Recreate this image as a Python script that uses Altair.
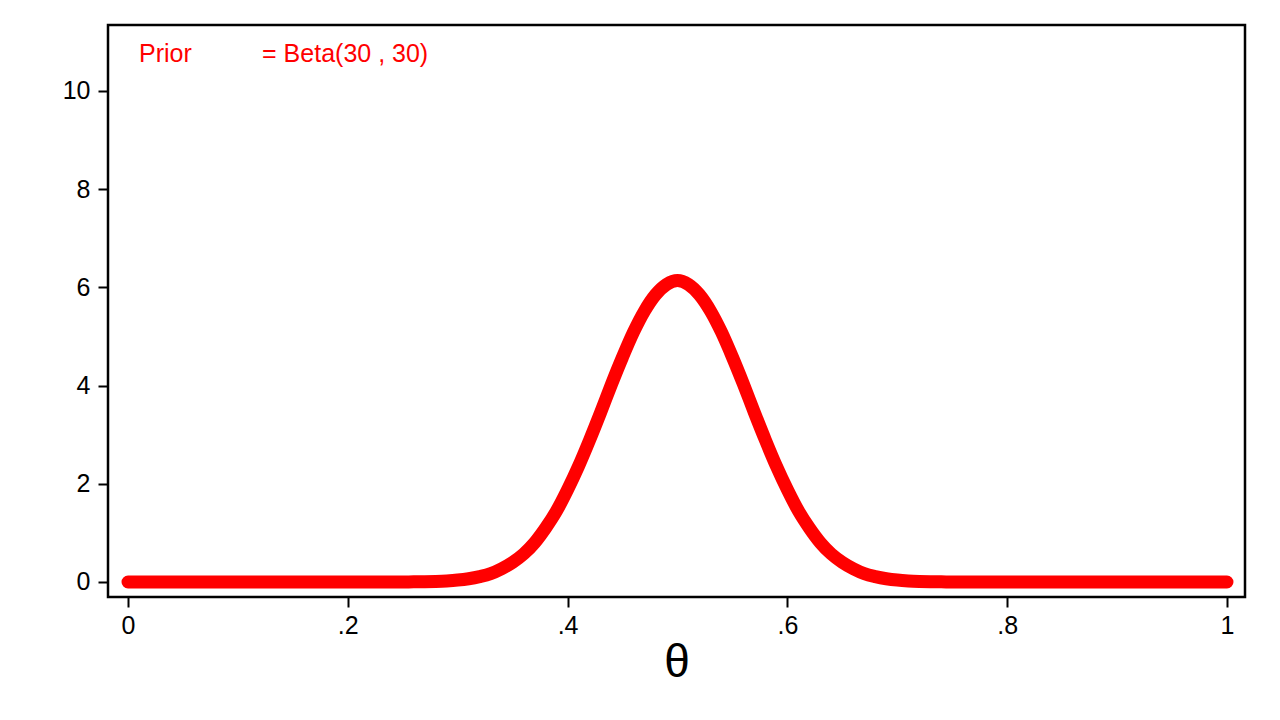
import altair as alt
import pandas as pd

# theta grid and density values (Beta(30,30) prior)
theta = [round(i * 0.01, 2) for i in range(101)]
left_half = [  # values for theta = 0.00 .. 0.50
    0, 0, 0, 0, 0, 0, 0, 0, 0, 0,
    0, 0, 0, 0, 0, 0, 0, 0, 0, 0,
    0, 0, 0, 0, 0, 0.001, 0.003, 0.006, 0.012, 0.022,
    0.039, 0.067, 0.11, 0.17, 0.27, 0.40, 0.57, 0.80, 1.10, 1.45,
    1.88, 2.36, 2.89, 3.45, 4.03, 4.58, 5.09, 5.52, 5.85, 6.06,
    6.14,
]
density = left_half + left_half[-2::-1]

x_ticks = [0, 0.2, 0.4, 0.6, 0.8, 1]
y_ticks = [0, 2, 4, 6, 8, 10]
note_x = [0.010, 0.122]
note_y = [10.6, 10.6]
note_text = ["Prior", "= Beta(30 , 30)"]

df = pd.DataFrame({"theta": theta, "density": density})
notes = pd.DataFrame({"x": note_x, "y": note_y, "t": note_text})

FONT = "Liberation Sans"

xscale = alt.Scale(domain=[-0.0182, 1.0164], nice=False, zero=False)
yscale = alt.Scale(domain=[-0.3055, 11.344], nice=False, zero=False)

line = alt.Chart(df).mark_line(
    color="#ff0000", strokeWidth=13, strokeCap="round", strokeJoin="round",
    interpolate="monotone"
).encode(
    x=alt.X("theta:Q", scale=xscale, title="θ",
            axis=alt.Axis(values=x_ticks,
                          labelExpr="datum.value == 0 ? '0' : datum.value == 1 ? '1' : replace(format(datum.value, '.1f'), '0.', '.')")),
    y=alt.Y("density:Q", scale=yscale, title=None,
            axis=alt.Axis(values=y_ticks)),
)

text = alt.Chart(notes).mark_text(
    color="#ff0000", font=FONT, fontSize=25, align="left", baseline="alphabetic"
).encode(
    x=alt.X("x:Q", scale=xscale),
    y=alt.Y("y:Q", scale=yscale),
    text="t:N",
)

chart = alt.layer(line, text).properties(
    width=1137, height=572,
    autosize=alt.AutoSizeParams(type="none"),
    padding={"left": 100, "top": 17, "right": 27, "bottom": 100},
    background="white",
).configure_view(
    stroke="black", strokeWidth=2.5
).configure_axis(
    domain=False, grid=False,
    ticks=True, tickColor="black", tickWidth=2, tickSize=10,
    labelFont=FONT, labelFontSize=25, labelColor="black",
    titleFont=FONT, titleColor="black", titleFontWeight="normal",
).configure_axisX(
    labelPadding=6, titleFontSize=46, titlePadding=2,
).configure_axisY(
    labelPadding=8,
)

chart.save("out.html", embed_options={"renderer": "svg", "actions": False})
